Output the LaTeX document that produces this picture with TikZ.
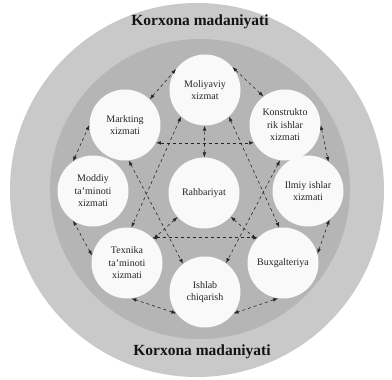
\documentclass[tikz,border=0pt]{standalone}
\usepackage{fontspec}
\setmainfont{Liberation Serif}
\usetikzlibrary{arrows.meta}

\begin{document}
\begin{tikzpicture}[x=1pt, y=1pt, >={Latex[length=5pt, width=3.6pt]},
	unit/.style={circle, fill=gray!5, minimum size=\s, inner sep=0pt,
		align=center, text=black!85, font=\fontsize{10}{12.5}\selectfont},
	title/.style={text=black!92, font=\fontsize{15.5}{16}\bfseries\selectfont},
	link/.style={<->, dashed, black!85, line width=.6pt}]
	\def\s{71pt}		% unit diameter
	\def\R{187}		% outer ring radius
	\def\r{150}		% inner ring radius

	\useasboundingbox (0, 0) rectangle (392, 380);

	% Rings
	\fill[gray!42] (197, 190) circle (\R);
	\fill[gray!58] (200, 191) circle (\r);

	% Ring titles
	\node[title] (toptitle) at (200, 358) {Korxona madaniyati};
	\node[title] (bottomtitle) at (202, 28) {Korxona madaniyati};

	% Units
	\node[unit] (rab) at (204, 187) {Rahbariyat};
	\node[unit] (mol) at (205, 290) {Moliyaviy\\xizmat};
	\node[unit] (konst) at (285, 255) {Konstrukto\\rik ishlar\\xizmati};
	\node[unit] (ilmiy) at (308, 189) {Ilmiy ishlar\\xizmati};
	\node[unit] (bux) at (283, 117) {Buxgalteriya};
	\node[unit] (ishlab) at (205, 88) {Ishlab\\chiqarish};
	\node[unit] (tex) at (127, 117) {Texnika\\ta'minoti\\xizmati};
	\node[unit] (moddiy) at (93, 189) {Moddiy\\ta'minoti\\xizmati};
	\node[unit] (mark) at (125, 255) {Markting\\xizmati};

	% Outer links
	\draw[link] (mark.46) -- (mol.144);
	\draw[link] (mol.40) -- (konst.127);
	\draw[link] (konst.0) -- (ilmiy.55);
	\draw[link] (ilmiy.-53) -- (bux.15);
	\draw[link] (bux.-98) -- (ishlab.-37);
	\draw[link] (ishlab.-143) -- (tex.-83);
	\draw[link] (tex.168) -- (moddiy.-124);
	\draw[link] (moddiy.124) -- (mark.180);

	% Star links
	\draw[link] (mark.-30) -- (konst.-150);
	\draw[link] (mark.-84) -- (ishlab.128);
	\draw[link] (konst.-98) -- (ishlab.54);
	\draw[link] (tex.45) -- (bux.135);
	\draw[link] (mol.-132) -- (tex.83);
	\draw[link] (mol.-48) -- (bux.96);

	% Links to the centre
	\draw[link] (rab) -- (mol);
	\draw[link] (rab) -- (tex);
	\draw[link] (rab) -- (bux);
\end{tikzpicture}
\end{document}
